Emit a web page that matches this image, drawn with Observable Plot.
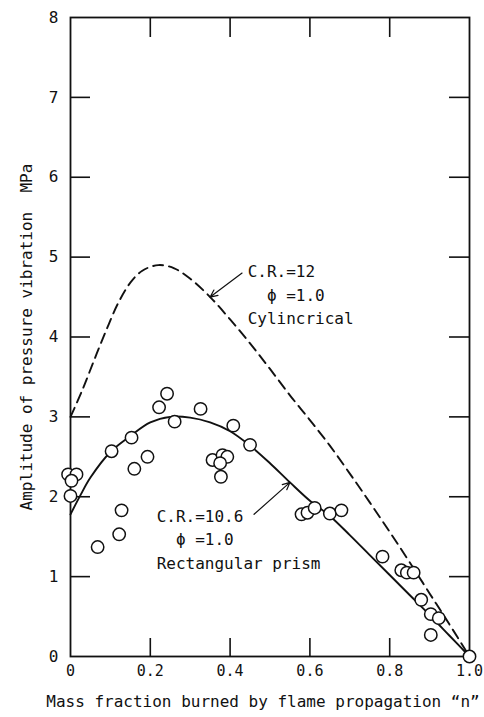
<!DOCTYPE html>
<html>
<head>
<meta charset="utf-8">
<script src="https://cdn.jsdelivr.net/npm/d3@7"></script>
<script src="https://cdn.jsdelivr.net/npm/@observablehq/plot@0.6"></script>
<style>
  html, body { margin: 0; padding: 0; background: #fff; }
  svg { display: block; }
</style>
</head>
<body>
<div id="chart"></div>
<script>
// Measured amplitudes, Rectangular prism chamber (C.R.=10.6, phi=1.0)
const measN = [-0.006, 0.015, 0.0025, 0.0, 0.103, 0.153, 0.193, 0.16, 0.128, 0.122, 0.068,
  0.222, 0.242, 0.261, 0.326, 0.408, 0.45, 0.356, 0.381, 0.393, 0.375, 0.377,
  0.579, 0.594, 0.612, 0.65, 0.679, 0.782, 0.829, 0.843, 0.86, 0.879, 0.903, 0.923, 0.903, 1.0];
const measAmp = [2.28, 2.28, 2.2, 2.01, 2.57, 2.74, 2.5, 2.35, 1.83, 1.53, 1.37,
  3.12, 3.29, 2.94, 3.10, 2.89, 2.65, 2.46, 2.52, 2.5, 2.42, 2.25,
  1.78, 1.8, 1.86, 1.79, 1.83, 1.25, 1.08, 1.05, 1.05, 0.71, 0.53, 0.48, 0.27, 0.0];

// Fitted curve, Rectangular prism (solid)
const rectN =   [0, 0.025, 0.05, 0.1, 0.15, 0.2, 0.25, 0.3, 0.35, 0.4, 0.45, 0.5, 0.55, 0.6, 0.65, 0.7, 0.75, 0.8, 0.85, 0.9, 0.95, 1.0];
const rectAmp = [1.78, 2.02, 2.24, 2.56, 2.76, 2.93, 3.0, 2.99, 2.93, 2.82, 2.64, 2.42, 2.18, 1.95, 1.76, 1.52, 1.27, 1.02, 0.77, 0.52, 0.26, 0];

// Calculated curve, Cylindrical chamber (dashed)
const cylN =   [0, 0.03, 0.06, 0.09, 0.12, 0.15, 0.18, 0.22, 0.26, 0.3, 0.35, 0.4, 0.45, 0.5, 0.55, 0.6, 0.65, 0.7, 0.75, 0.8, 0.85, 0.9, 0.95, 1.0];
const cylAmp = [3.0, 3.34, 3.72, 4.09, 4.43, 4.68, 4.83, 4.9, 4.86, 4.73, 4.5, 4.22, 3.92, 3.6, 3.27, 2.96, 2.64, 2.29, 1.93, 1.56, 1.18, 0.79, 0.4, 0];

// Axis ticks
const xTicks = [0, 0.2, 0.4, 0.6, 0.8, 1.0];
const xTickLabels = ["0", "0.2", "0.4", "0.6", "0.8", "1.0"];
const yTicks = [0, 1, 2, 3, 4, 5, 6, 7, 8];

// Curve labels: text, anchor point, and the curve sample the arrow points to
const labelText = ["C.R.=12\n  \u03D5 =1.0\nCylincrical", "C.R.=10.6\n  \u03D5 =1.0\nRectangular prism"];
const labelN = [0.444, 0.216];
const labelAmp = [4.55, 1.49];
const arrowFromN = [0.43, 0.46];
const arrowFromAmp = [4.8, 1.78];
const arrowToIndex = [10, 12]; // index into cylN / rectN

const xTitle = "Mass fraction burned by flame propagation \u201Cn\u201D";
const yTitle = "Amplitude of pressure vibration  MPa";

const points = measN.map((n, i) => ({n, a: measAmp[i]}));
const rect = rectN.map((n, i) => ({n, a: rectAmp[i]}));
const cyl = cylN.map((n, i) => ({n, a: cylAmp[i]}));
const curves = [cyl, rect];
const labels = labelText.map((t, i) => ({t, n: labelN[i], a: labelAmp[i]}));
const arrows = labelText.map((t, i) => ({
  n1: arrowFromN[i], a1: arrowFromAmp[i],
  n2: curves[i][arrowToIndex[i]].n, a2: curves[i][arrowToIndex[i]].a
}));

const W = 484, H = 717;
const mL = 70, mR = 15, mT = 17, mB = 61;
const fw = W - mL - mR, fh = H - mT - mB;
const innerY = yTicks.filter(d => d > 0 && d < 8);
const innerX = xTicks.filter(d => d > 0 && d < 1);

const chart = Plot.plot({
  width: W,
  height: H,
  marginLeft: mL,
  marginRight: mR,
  marginTop: mT,
  marginBottom: mB,
  style: {fontFamily: "'DejaVu Sans Mono', monospace", fontSize: "16px", color: "#111", background: "#fff"},
  x: {domain: [0, 1]},
  y: {domain: [0, 8]},
  marks: [
    // inward ticks on all four sides
    Plot.tickY(innerY, {y: d => d, insetRight: fw - 20, stroke: "#111", strokeWidth: 1.6}),
    Plot.tickY(innerY, {y: d => d, insetLeft: fw - 20, stroke: "#111", strokeWidth: 1.6}),
    Plot.tickX(innerX, {x: d => d, insetTop: fh - 18, stroke: "#111", strokeWidth: 1.6}),
    Plot.tickX(innerX, {x: d => d, insetBottom: fh - 20, stroke: "#111", strokeWidth: 1.6}),
    Plot.axisX(xTicks, {tickSize: 0, tickPadding: 9, fontSize: 15, label: null,
      tickFormat: d => xTickLabels[xTicks.indexOf(d)]}),
    Plot.axisY(yTicks, {tickSize: 0, tickPadding: 12, fontSize: 16, label: null,
      tickFormat: d => String(d)}),
    Plot.frame({stroke: "#111", strokeWidth: 1.8}),
    Plot.line(cyl, {x: "n", y: "a", curve: "catmull-rom", stroke: "#111", strokeWidth: 1.9, strokeDasharray: "10,6"}),
    Plot.line(rect, {x: "n", y: "a", curve: "catmull-rom", stroke: "#111", strokeWidth: 1.9}),
    Plot.arrow(arrows, {x1: "n1", y1: "a1", x2: "n2", y2: "a2", stroke: "#111", strokeWidth: 1.2, headLength: 10, headAngle: 50}),
    Plot.dot(points, {x: "n", y: "a", r: 6.2, fill: "#fff", stroke: "#111", strokeWidth: 1.5}),
    Plot.text(labels, {x: "n", y: "a", text: "t", textAnchor: "start", lineHeight: 1.47, fontSize: 16, fill: "#111"}),
    Plot.text([xTitle], {frameAnchor: "bottom", dy: 50, dx: -7, fontSize: 16, fill: "#111"}),
    Plot.text([yTitle], {frameAnchor: "left", dx: -44, rotate: -90, textAnchor: "middle", lineAnchor: "middle", fontSize: 16, fill: "#111"})
  ]
});
document.getElementById("chart").appendChild(chart);
</script>
</body>
</html>
